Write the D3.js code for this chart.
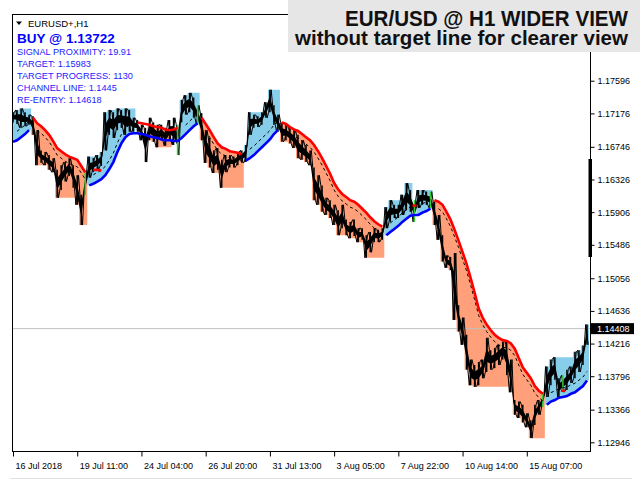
<!DOCTYPE html>
<html lang="en">
<head>
<meta charset="UTF-8">
<title>EUR/USD @ H1 wider view</title>
<script src="https://cdn.jsdelivr.net/npm/d3@7/dist/d3.min.js"></script>
<style>
  body { margin: 0; background: #fff; overflow: hidden; }
  svg { display: block; font-family: 'Liberation Sans', Arial, sans-serif; }
</style>
</head>
<body>
<svg id="chart" width="640" height="480"></svg>
<script>
// --- data (one entry per ~4px of H1 bars) ---
const highs = [
  1.1719,1.1722,1.1724,1.1719,1.1716,1.1714,1.1696,1.1670,1.1668,1.1664,
  1.1660,1.1645,1.1651,1.1655,1.1660,1.1651,1.1638,1.1613,1.1642,1.1662,
  1.1660,1.1664,1.1668,1.1719,1.1722,1.1719,1.1724,1.1722,1.1724,1.1722,
  1.1712,1.1709,1.1703,1.1699,1.1712,1.1706,1.1703,1.1703,1.1699,1.1709,
  1.1712,1.1703,1.1735,1.1741,1.1744,1.1738,1.1728,1.1718,1.1696,1.1686,
  1.1670,1.1673,1.1658,1.1664,1.1664,1.1662,1.1668,1.1670,1.1677,1.1719,
  1.1716,1.1714,1.1719,1.1732,1.1748,1.1728,1.1716,1.1706,1.1703,1.1699,
  1.1696,1.1690,1.1683,1.1677,1.1670,1.1648,1.1638,1.1625,1.1609,1.1606,
  1.1600,1.1593,1.1600,1.1581,1.1578,1.1581,1.1570,1.1570,1.1561,1.1565,
  1.1570,1.1568,1.1570,1.1597,1.1606,1.1600,1.1600,1.1613,1.1628,1.1619,
  1.1606,1.1619,1.1619,1.1617,1.1617,1.1604,1.1587,1.1561,1.1535,1.1533,
  1.1538,1.1471,1.1455,1.1433,1.1401,1.1394,1.1398,1.1401,1.1429,1.1413,
  1.1416,1.1420,1.1424,1.1426,1.1401,1.1349,1.1347,1.1343,1.1332,1.1323,
  1.1343,1.1349,1.1358,1.1392,1.1401,1.1404,1.1377,1.1381,1.1388,1.1392,
  1.1411,1.1413,1.1419,1.1446
];
const lows = [
  1.1706,1.1704,1.1699,1.1701,1.1703,1.1690,1.1651,1.1654,1.1651,1.1645,
  1.1642,1.1609,1.1619,1.1630,1.1637,1.1622,1.1600,1.1574,1.1613,1.1635,
  1.1642,1.1645,1.1650,1.1670,1.1690,1.1686,1.1696,1.1699,1.1690,1.1694,
  1.1694,1.1694,1.1683,1.1655,1.1683,1.1681,1.1674,1.1683,1.1676,1.1683,
  1.1677,1.1664,1.1706,1.1716,1.1719,1.1712,1.1703,1.1683,1.1654,1.1648,
  1.1641,1.1645,1.1622,1.1642,1.1648,1.1648,1.1651,1.1654,1.1655,1.1690,
  1.1699,1.1700,1.1703,1.1712,1.1719,1.1703,1.1694,1.1681,1.1683,1.1679,
  1.1673,1.1660,1.1658,1.1655,1.1651,1.1606,1.1600,1.1591,1.1587,1.1583,
  1.1574,1.1561,1.1570,1.1561,1.1557,1.1560,1.1552,1.1555,1.1532,1.1539,
  1.1552,1.1552,1.1555,1.1570,1.1578,1.1583,1.1583,1.1587,1.1593,1.1591,
  1.1578,1.1596,1.1600,1.1600,1.1596,1.1574,1.1555,1.1527,1.1519,1.1516,
  1.1452,1.1437,1.1420,1.1388,1.1368,1.1366,1.1368,1.1377,1.1385,1.1388,
  1.1390,1.1394,1.1401,1.1381,1.1359,1.1330,1.1326,1.1320,1.1314,1.1300,
  1.1317,1.1330,1.1340,1.1353,1.1368,1.1375,1.1353,1.1359,1.1362,1.1371,
  1.1377,1.1385,1.1394,1.1420
];

// channel lines: [first bar, values...]
const redRuns = [
  [5, [1.1712,1.1705,1.1701,1.1696,1.1690,1.1682,1.1673,1.1669,1.1665,1.1662,1.1660,1.1658,1.1650,1.1642]],
  [20, [1.1645,1.1645,1.1644]],
  [31, [1.1706,1.1705,1.1704,1.1703,1.1701,1.1700,1.1699,1.1697,1.1696,1.1697,1.1699]],
  [47, [1.1712,1.1704,1.1696,1.1687,1.1679,1.1674,1.1672,1.1669,1.1668,1.1667,1.1665]],
  [67, [1.1706,1.1704,1.1700,1.1697,1.1695,1.1691,1.1687,1.1683,1.1677,1.1669,1.1660,1.1650,1.1640,
        1.1628,1.1620,1.1614,1.1610,1.1606,1.1604,1.1600,1.1595,1.1590,1.1584,1.1579,1.1575,1.1572]],
  [100, [1.1599]],
  [105, [1.1606,1.1604,1.1600,1.1591,1.1581,1.1568,1.1554,1.1539,1.1524,1.1506,1.1487,1.1467,1.1455,1.1446,
         1.1439,1.1433,1.1429,1.1426,1.1425,1.1422,1.1415,1.1403,1.1391,1.1384,1.1377,1.1367,1.1361,1.1357]],
  [137, [1.1361]]
];
const blueRuns = [
  [0, [1.1681,1.1683,1.1687,1.1691,1.1696]],
  [19, [1.1625,1.1627,1.1630,1.1633,1.1638,1.1646,1.1655,1.1668,1.1679,1.1687,1.1691,1.1692,1.1692,1.1691,
        1.1690,1.1688,1.1687,1.1686,1.1684,1.1683,1.1683,1.1682,1.1682,1.1686,1.1691,1.1696,1.1701,1.1705]],
  [58, [1.1657,1.1660,1.1664,1.1669,1.1674,1.1679,1.1684,1.1691,1.1696]],
  [93, [1.1561,1.1565,1.1569,1.1573,1.1578,1.1582,1.1586,1.1587,1.1587,1.1590,1.1592,1.1595]],
  [133, [1.1343,1.1347,1.1349,1.1352,1.1353,1.1354,1.1357,1.1359,1.1363,1.1367,1.1374]]
];

// [from bar, to bar, direction] 1 = up (blue), -1 = down (red)
const trendSegments = [
  [0, 4, 1], [5, 18, -1], [19, 30, 1], [34, 39, -1], [42, 46, 1], [47, 57, -1],
  [58, 66, 1], [67, 92, -1], [93, 99, 1], [101, 104, 1], [105, 132, -1], [133, 143, 1]
];
const signalBars = [18, 41, 46, 100, 104, 132, 137];

const priceTicks = [1.17596, 1.17176, 1.16746, 1.16326, 1.15906, 1.15486,
                    1.15056, 1.14636, 1.14216, 1.13796, 1.13366, 1.12946];
const timeTickBars = [0, 16, 32, 48, 64, 80, 96, 112, 128];
const timeLabels = ["16 Jul 2018", "19 Jul 11:00", "24 Jul 04:00", "26 Jul 20:00", "31 Jul 13:00",
                    "3 Aug 05:00", "7 Aug 22:00", "10 Aug 14:00", "15 Aug 07:00"];
const lastPrice = 1.14408;
const infoLines = ["SIGNAL PROXIMITY: 19.91", "TARGET: 1.15983", "TARGET PROGRESS: 1130",
                   "CHANNEL LINE: 1.1445", "RE-ENTRY: 1.14618"];

// --- layout ---
const plot = { left: 12, top: 14, right: 590, bottom: 451 };
const svg = d3.select("#chart");
const n = highs.length;

const x = d3.scaleLinear().domain([0, n - 1]).range([13, 587]);
const y = d3.scaleLinear().domain([1.12828, 1.18454]).range([451.5, 14]);

function expand(runs) {
  const arr = new Array(n).fill(null);
  runs.forEach(([start, vals]) => vals.forEach((v, k) => { arr[start + k] = v; }));
  return arr;
}
const red = expand(redRuns);
const blue = expand(blueRuns);

svg.append("clipPath").attr("id", "plotClip")
  .append("rect")
  .attr("x", plot.left).attr("y", plot.top)
  .attr("width", plot.right - plot.left).attr("height", plot.bottom - plot.top);

const g = svg.append("g").attr("clip-path", "url(#plotClip)");
const line = d3.line().x(d => d[0]).y(d => d[1]);

// --- filled channel zones ---
trendSegments.forEach(([from, to, dir]) => {
  const chan = dir < 0 ? red : blue;
  const top = [];
  const bottom = [];
  let ext = dir < 0 ? Infinity : -Infinity;
  top.push([x(from) - 2, y(chan[from])]);
  for (let i = from; i <= to; i++) {
    top.push([x(i), y(chan[i])]);
    ext = dir < 0 ? Math.min(ext, lows[i]) : Math.max(ext, highs[i]);
    bottom.push([x(i) - 2, y(ext)], [x(i) + 2, y(ext)]);
  }
  top.push([x(to) + 2, y(chan[to])]);
  const pts = top.concat(bottom.reverse());
  g.append("path")
    .attr("d", line(pts) + "Z")
    .attr("fill", dir < 0 ? "#ffa07a" : "#87ceeb");
});

// current price line
g.append("line")
  .attr("x1", plot.left).attr("x2", plot.right)
  .attr("y1", y(lastPrice)).attr("y2", y(lastPrice))
  .attr("stroke", "#c0c0c0").attr("stroke-width", 1);

// --- price bars ---
const bars = d3.range(n);
// dense core of the bars (middle part of each high-low range)
const core = d3.area()
  .x(i => x(i))
  .y0(i => y(lows[i] + (highs[i] - lows[i]) * 0.3))
  .y1(i => y(highs[i] - (highs[i] - lows[i]) * 0.3));
g.append("path").attr("d", core(bars)).attr("fill", "#000");
// thin zigzag for the wick noise
const zig = [];
bars.forEach(i => {
  zig.push([x(i) - 1.3, y(i % 2 ? highs[i] : lows[i])]);
  zig.push([x(i) + 1.3, y(i % 2 ? lows[i] : highs[i])]);
});
g.append("path").attr("d", line(zig))
  .attr("fill", "none").attr("stroke", "#000").attr("stroke-width", 1)
  .attr("stroke-linejoin", "bevel");
g.append("g").selectAll("line").data(bars).join("line")
  .attr("x1", i => x(i)).attr("x2", i => x(i))
  .attr("y1", i => y(highs[i])).attr("y2", i => y(lows[i]))
  .attr("stroke", i => signalBars.includes(i) ? "#32cd32" : "#000")
  .attr("stroke-width", 1.5);

// dashed mid line inside each zone
trendSegments.forEach(([from, to, dir]) => {
  if (to - from < 3) return;
  const chan = dir < 0 ? red : blue;
  const off = dir < 0 ? 7 : -9;
  const pts = d3.range(from + 1, to + 1).map(i => [x(i), y(chan[i]) + off]);
  g.append("path").attr("d", line(pts))
    .attr("fill", "none").attr("stroke", "#000")
    .attr("stroke-width", 1).attr("stroke-dasharray", "3,3");
});

// channel lines
function drawChannel(arr, color) {
  const l = d3.line().defined(i => arr[i] != null).x(i => x(i)).y(i => y(arr[i]));
  g.append("path").attr("d", l(bars))
    .attr("fill", "none").attr("stroke", color).attr("stroke-width", 2.6);
  bars.filter(i => arr[i] != null && arr[i - 1] == null && arr[i + 1] == null)
    .forEach(i => {
      g.append("line")
        .attr("x1", x(i) - 2).attr("x2", x(i) + 2)
        .attr("y1", y(arr[i])).attr("y2", y(arr[i]))
        .attr("stroke", color).attr("stroke-width", 2.6);
    });
}
drawChannel(blue, "#0000ff");
drawChannel(red, "#ff0000");

// --- frame and axes ---
svg.append("rect")
  .attr("x", plot.left + 0.5).attr("y", plot.top + 0.5)
  .attr("width", plot.right - plot.left).attr("height", plot.bottom - plot.top)
  .attr("fill", "none").attr("stroke", "#000");

svg.append("rect")
  .attr("x", 588.5).attr("y", 159).attr("width", 3.5).attr("height", 98)
  .attr("fill", "#000");

const yAxis = svg.append("g")
  .attr("transform", `translate(${plot.right + 0.5},0)`)
  .call(d3.axisRight(y).tickValues(priceTicks).tickSize(4).tickPadding(3)
    .tickFormat(d3.format(".5f")));
yAxis.select(".domain").remove();
yAxis.selectAll("text").attr("font-size", 9).attr("font-family", "'Liberation Sans', Arial, sans-serif")
  .attr("fill", "#000");

const xAxis = svg.append("g")
  .attr("transform", `translate(0,${plot.bottom + 0.5})`)
  .call(d3.axisBottom(x).tickValues(timeTickBars).tickSize(5).tickPadding(6)
    .tickFormat((d, i) => timeLabels[i]));
xAxis.select(".domain").remove();
xAxis.selectAll("text").attr("text-anchor", "start").attr("dx", 2)
  .attr("font-size", 9).attr("font-family", "'Liberation Sans', Arial, sans-serif")
  .attr("fill", "#000");

// last price tag
const lp = y(lastPrice);
svg.append("rect").attr("x", 591).attr("y", lp - 5.5).attr("width", 43).attr("height", 11)
  .attr("fill", "#000");
svg.append("text").attr("x", 597).attr("y", lp + 3.3)
  .attr("font-size", 9).attr("fill", "#fff").text(lastPrice.toFixed(5));

svg.append("line").attr("x1", 10).attr("x2", 632).attr("y1", 478.5).attr("y2", 478.5)
  .attr("stroke", "#e2e2e2");

// --- title box ---
svg.append("rect").attr("x", 288).attr("y", 0).attr("width", 352).attr("height", 52)
  .attr("fill", "#e6e6e6");
svg.append("text").attr("x", 628).attr("y", 26)
  .attr("text-anchor", "end").attr("font-size", 21.5).attr("font-weight", "bold")
  .attr("textLength", 283).attr("lengthAdjust", "spacingAndGlyphs")
  .attr("fill", "#111").text("EUR/USD @ H1 WIDER VIEW");
svg.append("text").attr("x", 628).attr("y", 44.5)
  .attr("text-anchor", "end").attr("font-size", 20).attr("font-weight", "bold")
  .attr("textLength", 333).attr("lengthAdjust", "spacingAndGlyphs")
  .attr("fill", "#111").text("without target line for clearer view");

// --- top-left info panel ---
svg.append("path").attr("d", "M16,21.5 L22,21.5 L19,25 Z").attr("fill", "#000");
svg.append("text").attr("x", 28).attr("y", 26.5).attr("font-size", 9.5)
  .attr("fill", "#000").text("EURUSD+,H1");
svg.append("text").attr("x", 17).attr("y", 43.3).attr("font-size", 13.5)
  .attr("font-weight", "bold").attr("fill", "#0000ff").text("BUY @ 1.13722");
svg.append("g").selectAll("text").data(infoLines).join("text")
  .attr("x", 17).attr("y", (d, i) => 55 + i * 12)
  .attr("font-size", 9.2).attr("fill", "#2222ff")
  .text(d => d);
</script>
</body>
</html>
